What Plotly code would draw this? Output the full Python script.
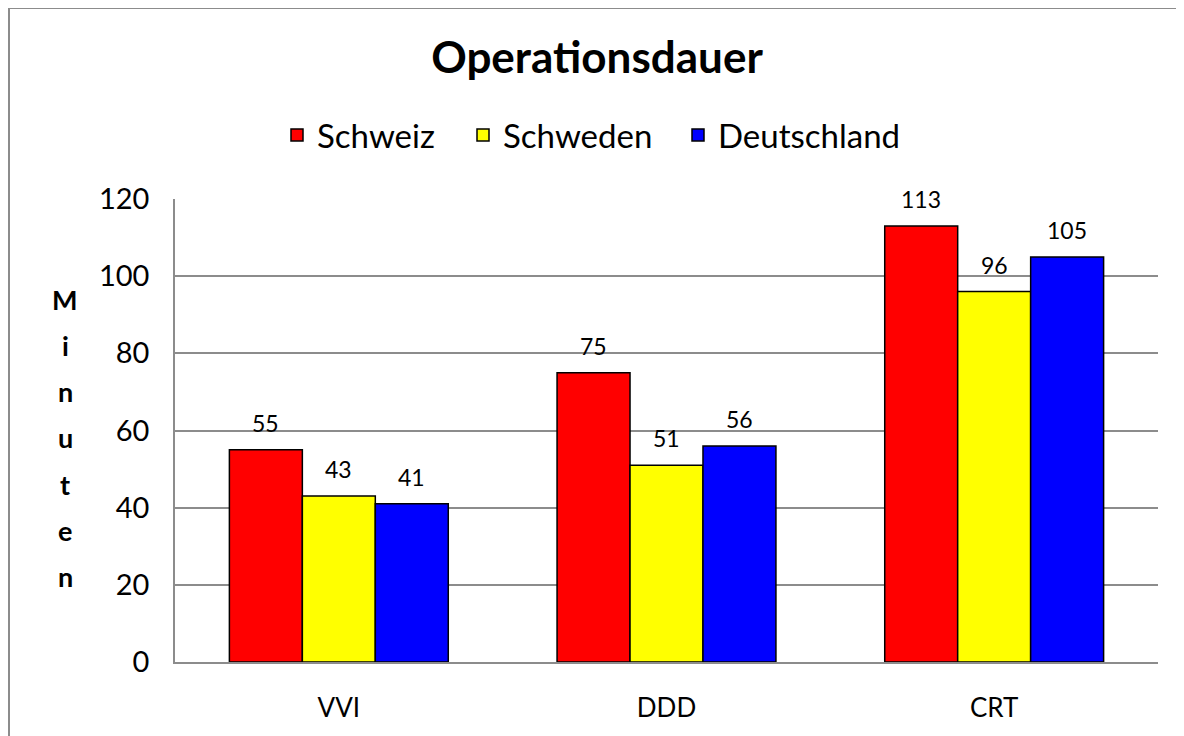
import plotly.graph_objects as go

categories = ["VVI", "DDD", "CRT"]
series_names = ["Schweiz", "Schweden", "Deutschland"]
schweiz = [55, 75, 113]
schweden = [43, 51, 96]
deutschland = [41, 56, 105]
colors = ["#FF0000", "#FFFF00", "#0000FF"]
y_ticks = [0, 20, 40, 60, 80, 100, 120]
y_title_letters = list("Minuten")

FONT = "Lato, Calibri, Carlito, sans-serif"

W, H = 1184, 736
OFF = 8  # page offset of the figure (body margin)
ml, mr, mt, mb = 167, 34, 191, 82
PW, PH = W - ml - mr, H - mt - mb
BARGAP = 0.332


def px_x(page_x):
    return (page_x - OFF - ml) / PW


def px_y(page_y):
    return 1 - (page_y - OFF - mt) / PH


all_series = [schweiz, schweden, deutschland]
legend_ids = ["legend", "legend2", "legend3"]
legend_left_px = [277, 463, 678]

fig = go.Figure()
for name, vals, col, lg in zip(series_names, all_series, colors, legend_ids):
    fig.add_trace(go.Bar(
        name=name, x=categories, y=vals, legend=lg, showlegend=True,
        marker=dict(color=col, line=dict(color="black", width=1.5)),
        cliponaxis=False,
    ))

annotations = []
# value labels above bars
cat_w = PW / len(categories)
bar_w = cat_w * (1 - BARGAP) / len(all_series)
for i, vals in enumerate(all_series):
    shift = (i - (len(all_series) - 1) / 2) * bar_w
    for c, v in zip(categories, vals):
        annotations.append(dict(
            text=str(v), x=c, y=v, xref="x", yref="y", xshift=shift, yshift=11,
            showarrow=False, xanchor="center", yanchor="bottom",
            font=dict(family=FONT, size=23, color="black"),
        ))

# stacked vertical axis title
for i, ch in enumerate(y_title_letters):
    annotations.append(dict(
        text=f"<b>{ch}</b>", xref="paper", yref="paper",
        x=px_x(65), y=px_y(299 + i * 46.3),
        showarrow=False, font=dict(family=FONT, size=27, color="black"),
        xanchor="center", yanchor="middle",
    ))

legend_common = dict(orientation="h", xanchor="left", y=px_y(135), yanchor="middle",
                     font=dict(family=FONT, size=33, color="black"),
                     itemwidth=30, bgcolor="rgba(0,0,0,0)")
legends = {lg: dict(x=px_x(lx), **legend_common) for lg, lx in zip(legend_ids, legend_left_px)}

fig.update_layout(
    width=W, height=H,
    showlegend=True,
    margin=dict(l=ml, r=mr, t=mt, b=mb),
    paper_bgcolor="white", plot_bgcolor="white",
    barmode="group", bargap=BARGAP, bargroupgap=0,
    title=dict(text="<b>Operationsdauer</b>", x=(597 - OFF) / W, xanchor="center",
               y=1 - (58 - OFF) / H, yanchor="middle",
               font=dict(family=FONT, size=44, color="black")),
    font=dict(family=FONT, color="black"),
    annotations=annotations,
    shapes=[dict(type="rect", xref="paper", yref="paper",
                 x0=(1 - ml) / PW, x1=(1200 - ml) / PW,
                 y0=1 - (760 - mt) / PH, y1=1 + (mt - 0) / PH,
                 line=dict(color="#8C8C8C", width=2), layer="below")],
    **legends,
)
fig.update_yaxes(range=[0, 120], tickvals=y_ticks, showgrid=True,
                 gridcolor="#8C8C8C", gridwidth=1.5, showline=True,
                 linecolor="#8C8C8C", linewidth=1.5, ticks="",
                 ticklabelstandoff=18,
                 tickfont=dict(family=FONT, size=29, color="black"), zeroline=False)
fig.update_xaxes(showline=True, linecolor="#8C8C8C", linewidth=2, ticks="",
                 ticklabelstandoff=22,
                 tickfont=dict(family=FONT, size=26, color="black"))

fig.write_html("out.html")
